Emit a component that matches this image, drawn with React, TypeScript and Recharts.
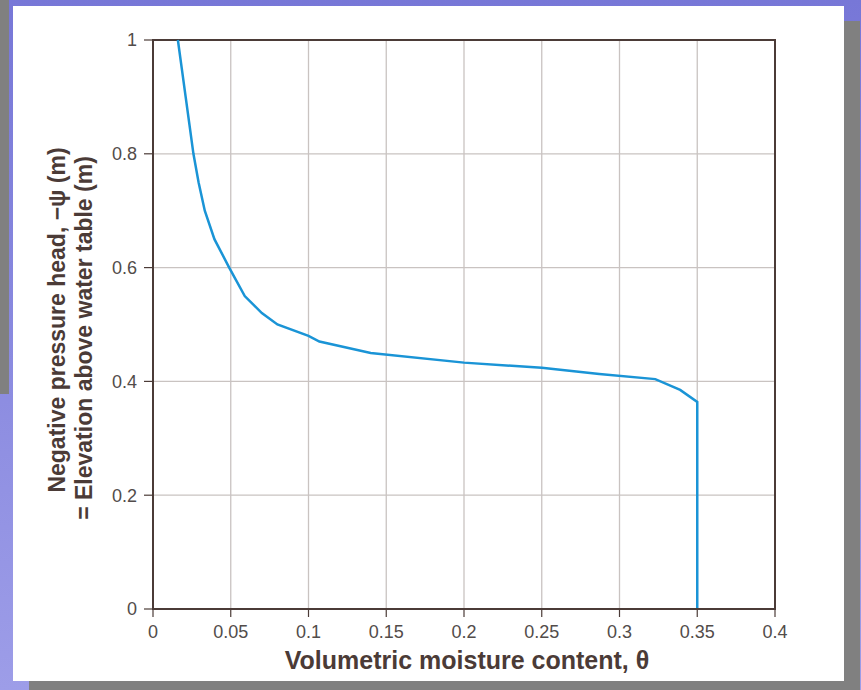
import React from 'react';
import { LineChart, Line, XAxis, YAxis, CartesianGrid, ReferenceArea } from 'recharts';

// moisture retention curve
const theta = [0.016, 0.0185, 0.021, 0.0235, 0.026, 0.0293, 0.0333, 0.0395, 0.049, 0.059, 0.07, 0.08, 0.1, 0.107, 0.14, 0.2, 0.25, 0.287, 0.323, 0.339, 0.35, 0.35];
const psi = [1.0, 0.95, 0.9, 0.85, 0.8, 0.75, 0.7, 0.65, 0.6, 0.55, 0.52, 0.5, 0.48, 0.47, 0.45, 0.433, 0.424, 0.413, 0.404, 0.385, 0.364, 0];

const xTicks = [0, 0.05, 0.1, 0.15, 0.2, 0.25, 0.3, 0.35, 0.4];
const xMinorTicks = [
  0.01, 0.02, 0.03, 0.04, 0.06, 0.07, 0.08, 0.09, 0.11, 0.12, 0.13, 0.14,
  0.16, 0.17, 0.18, 0.19, 0.21, 0.22, 0.23, 0.24, 0.26, 0.27, 0.28, 0.29,
  0.31, 0.32, 0.33, 0.34, 0.36, 0.37, 0.38, 0.39,
];
const yTicks = [0, 0.2, 0.4, 0.6, 0.8, 1];

const data = theta.map((t, i) => ({ theta: t, psi: psi[i] }));

const ink = '#4b3b37';
const font = '"Liberation Sans", Arial, sans-serif';

const YTitle = () => (
  <g fontFamily={font} fontWeight="bold" fontSize={23} fill={ink}>
    <text x={44} y={314} transform="rotate(-90 44 314)" textAnchor="middle" dominantBaseline="central">
      Negative pressure head, −ψ (m)
    </text>
    <text x={71} y={332} transform="rotate(-90 71 332)" textAnchor="middle" dominantBaseline="central">
      = Elevation above water table (m)
    </text>
  </g>
);

const XTitle = (props: any) => {
  const vb = props.viewBox;
  return (
    <text x={vb.x + vb.width / 2 + 3} y={vb.y + 51} textAnchor="middle" dominantBaseline="central"
      fontFamily={font} fontWeight="bold" fontSize={25} fill={ink}>
      Volumetric moisture content, θ
    </text>
  );
};

export default function App() {
  return (
    <div style={{ position: 'absolute', left: 0, top: 0, width: 861, height: 690, overflow: 'hidden',
      background: 'linear-gradient(#7777d7, #9d9de8)' }}>
      <div style={{ position: 'absolute', left: 0, top: 0, width: 9, height: 394, background: '#808080' }} />
      <div style={{ position: 'absolute', left: 29, top: 21, width: 831, height: 669, background: '#808080' }} />
      <div style={{ position: 'absolute', left: 13, top: 6, width: 831, height: 675, background: '#ffffff' }}>
        <LineChart width={831} height={675} data={data} margin={{ top: 34, right: 69, bottom: 0, left: 0 }}>
          <CartesianGrid stroke="#c9c3c1" strokeWidth={1.3} />
          <XAxis xAxisId="minor" dataKey="theta" type="number" domain={[0, 0.4]} ticks={xMinorTicks}
            interval={0} height={0} mirror axisLine={false} tick={false} tickSize={5}
            tickLine={{ stroke: ink, strokeWidth: 1.2 }} />
          <XAxis dataKey="theta" type="number" domain={[0, 0.4]} ticks={xTicks} interval={0} height={72}
            tickSize={8} tickMargin={8} axisLine={{ stroke: ink, strokeWidth: 2 }}
            tickLine={{ stroke: ink, strokeWidth: 1.2 }}
            tick={{ fontFamily: font, fontSize: 18, fill: '#524c4a' }}
            tickFormatter={(v: number) => String(v)} label={<XTitle />} />
          <YAxis dataKey="psi" type="number" domain={[0, 1]} ticks={yTicks} interval={0} width={140}
            tickSize={9} tickMargin={7} axisLine={{ stroke: ink, strokeWidth: 2 }}
            tickLine={{ stroke: ink, strokeWidth: 1.2 }}
            tick={{ fontFamily: font, fontSize: 18, fill: '#524c4a' }}
            tickFormatter={(v: number) => String(v)} label={<YTitle />} />
          <ReferenceArea x1={0} x2={0.4} y1={0} y2={1} fill="none" stroke={ink} strokeWidth={2} ifOverflow="visible" />
          <Line type="linear" dataKey="psi" stroke="#1a94d6" strokeWidth={2.5} dot={false} isAnimationActive={false} />
        </LineChart>
      </div>
    </div>
  );
}
